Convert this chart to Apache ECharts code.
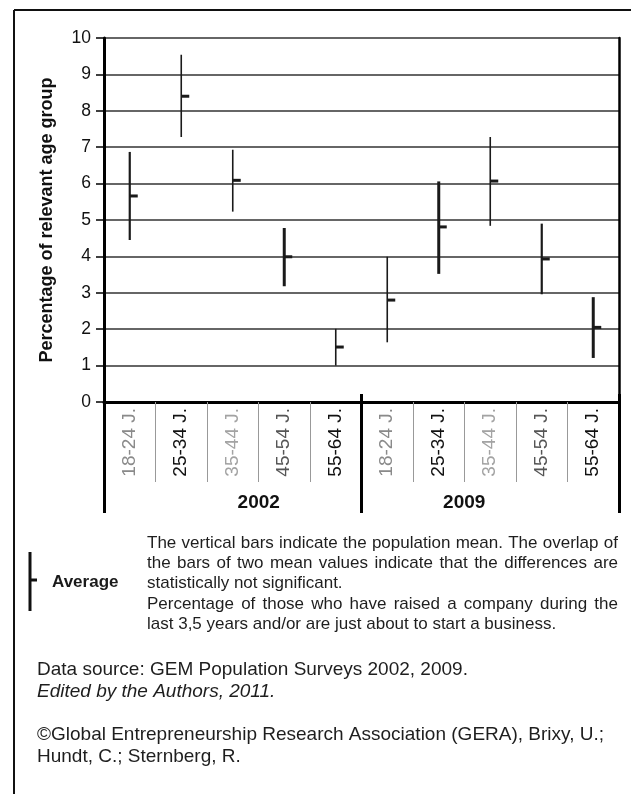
<!DOCTYPE html>
<html><head><meta charset="utf-8">
<script src="https://cdn.jsdelivr.net/npm/echarts@6/dist/echarts.min.js"></script>
<style>html,body{margin:0;padding:0;background:#fff}#c{width:631px;height:794px}</style>
</head><body><div id="c"></div>
<script>
// ---- data ----
const categories = ['18-24 J.','25-34 J.','35-44 J.','45-54 J.','55-64 J.','18-24 J.','25-34 J.','35-44 J.','45-54 J.','55-64 J.'];
const years = ['2002','2009'];
const lowValues  = [4.45, 7.28, 5.23, 3.18, 1.00, 1.64, 3.52, 4.84, 2.96, 1.21];
const highValues = [6.87, 9.54, 6.93, 4.78, 2.01, 3.99, 6.06, 7.28, 4.90, 2.88];
const meanValues = [5.66, 8.40, 6.09, 3.99, 1.51, 2.80, 4.81, 6.07, 3.93, 2.05];
// ---- styles ----
const barWidths = [2.2, 1.6, 1.6, 3, 1.6, 1.6, 3, 1.6, 2.2, 3];
const labelColors = ['#8a8a8a','#111111','#a3a3a3','#555555','#111111','#8a8a8a','#111111','#a3a3a3','#555555','#111111'];
const noteLines = [
  ['The vertical bars indicate the population mean. The overlap of', true],
  ['the bars of two mean values indicate that the differences are', true],
  ['statistically not significant.', false],
  ['Percentage of those who have raised a company during the', true],
  ['last 3,5 years and/or are just about to start a business.', false]
];
const sourceLines = [
  ['Data source: GEM Population Surveys 2002, 2009.', 'normal'],
  ['Edited by the Authors, 2011.', 'italic']
];
const creditLines = ['©Global Entrepreneurship Research Association (GERA), Brixy, U.;', 'Hundt, C.; Sternberg, R.'];

const FF = '"Liberation Sans", Arial, sans-serif';
const measureCtx = document.createElement('canvas').getContext('2d');

function textLine(str, x, y, font, fill, justify, width) {
  if (!justify) {
    return [{type:'text', x:x, y:y, style:{text:str, font:font, fill:fill, verticalAlign:'middle'}}];
  }
  measureCtx.font = font;
  const words = str.split(' ');
  const ws = words.map(w => measureCtx.measureText(w).width);
  const total = ws.reduce((a,b)=>a+b,0);
  const gap = (width - total) / (words.length - 1);
  const out = [];
  let cx = x;
  words.forEach((w,i) => {
    out.push({type:'text', x:cx, y:y, style:{text:w, font:font, fill:fill, verticalAlign:'middle'}});
    cx += ws[i] + gap;
  });
  return out;
}

const graphics = [];
// outer frame
graphics.push({type:'line', shape:{x1:14,y1:10,x2:631,y2:10}, style:{stroke:'#111', lineWidth:2}});
graphics.push({type:'line', shape:{x1:14,y1:10,x2:14,y2:794}, style:{stroke:'#111', lineWidth:2}});
// legend symbol
graphics.push({type:'line', shape:{x1:30,y1:552,x2:30,y2:611}, style:{stroke:'#111', lineWidth:3}});
graphics.push({type:'rect', shape:{x:30,y:578.5,width:7,height:3}, style:{fill:'#111'}});
graphics.push({type:'text', x:52, y:582, style:{text:'Average', font:'bold 17px '+FF, fill:'#1a1a1a', verticalAlign:'middle'}});
noteLines.forEach((l,i) => {
  textLine(l[0], 147, 543 + i*20.3, '17px '+FF, '#1e1e1e', l[1], 471).forEach(g => graphics.push(g));
});
sourceLines.forEach((l,i) => {
  graphics.push({type:'text', x:37, y:670 + i*22, style:{text:l[0], font:l[1]+' 19px '+FF, fill:'#1e1e1e', verticalAlign:'middle'}});
});
creditLines.forEach((l,i) => {
  graphics.push({type:'text', x:37, y:735 + i*22, style:{text:l, font:'19px '+FF, fill:'#1e1e1e', verticalAlign:'middle'}});
});

const chart = echarts.init(document.getElementById('c'), null, {renderer:'canvas'});
chart.setOption({
  animation:false,
  backgroundColor:'#fff',
  grid:{left:104, right:12, top:38, bottom:392, containLabel:false},
  xAxis:[{
    type:'category', data:categories, position:'bottom',
    axisLine:{show:true, lineStyle:{color:'#000', width:3}},
    axisTick:{show:true, interval:0, length:80, lineStyle:{color:'#999', width:1}},
    axisLabel:{interval:0, rotate:90, margin:6, fontSize:19, fontFamily:FF,
      color:(v,i)=>labelColors[i]}
  },{
    type:'category', data:years, position:'bottom', offset:-8,
    axisLine:{show:false},
    axisTick:{show:true, inside:false, length:119, lineStyle:{color:'#000', width:3}},
    axisLabel:{margin:99, fontSize:19, fontWeight:'bold', fontFamily:FF, color:'#111',
      formatter:(v,i)=> i===0 ? '{a|'+v+'}' : '{b|'+v+'}',
      rich:{a:{fontSize:19, fontWeight:'bold', fontFamily:FF, color:'#111', padding:[0,0,0,52]},
            b:{fontSize:19, fontWeight:'bold', fontFamily:FF, color:'#111', padding:[0,52,0,0]}}}
  }],
  yAxis:[{
    type:'value', min:0, max:10, interval:1, position:'left',
    name:'Percentage of relevant age group', nameLocation:'middle', nameGap:48,
    nameTextStyle:{fontSize:18, fontWeight:'bold', fontFamily:FF, color:'#111'},
    axisLine:{show:true, lineStyle:{color:'#000', width:3}},
    axisTick:{show:true, length:8, lineStyle:{color:'#000', width:1.5}},
    axisLabel:{fontSize:17.5, fontFamily:FF, color:'#111', margin:13},
    splitLine:{show:true, lineStyle:{color:'#333', width:1.5}}
  },{
    type:'value', min:0, max:10, interval:1, position:'right',
    axisLine:{show:true, lineStyle:{color:'#000', width:2.5}},
    axisTick:{show:false}, axisLabel:{show:false}, splitLine:{show:false}
  }],
  series:[{
    type:'custom', xAxisIndex:0, yAxisIndex:0,
    data: categories.map((c,i)=>[i, lowValues[i], highValues[i], meanValues[i]]),
    renderItem:function(params, api){
      const i = api.value(0);
      const top = api.coord([i, api.value(2)]);
      const bot = api.coord([i, api.value(1)]);
      const mid = api.coord([i, api.value(3)]);
      const w = barWidths[params.dataIndex];
      return {type:'group', children:[
        {type:'line', shape:{x1:top[0], y1:top[1], x2:bot[0], y2:bot[1]}, style:{stroke:'#1a1a1a', lineWidth:w}},
        {type:'rect', shape:{x:top[0], y:mid[1]-1.5, width:8, height:3}, style:{fill:'#1a1a1a'}}
      ]};
    }
  }],
  graphic: graphics
});
</script></body></html>
